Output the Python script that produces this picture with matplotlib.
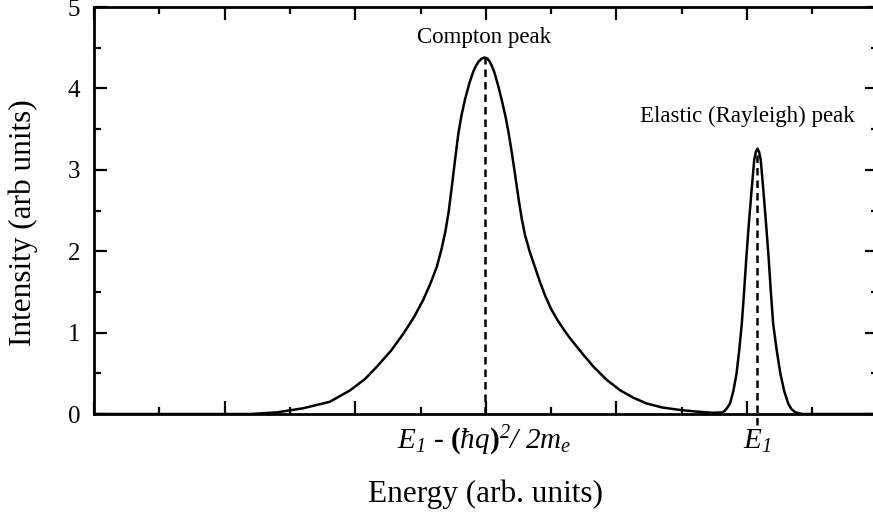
import numpy as np
import matplotlib
matplotlib.use("Agg")
import matplotlib.pyplot as plt
from matplotlib.ticker import MultipleLocator, NullFormatter

plt.rcParams['font.family'] = ['Liberation Serif', 'DejaVu Serif']
plt.rcParams['mathtext.fontset'] = 'custom'
plt.rcParams['mathtext.rm'] = 'Liberation Serif'
plt.rcParams['mathtext.it'] = 'Liberation Serif:italic'
plt.rcParams['mathtext.sf'] = 'Liberation Serif:italic'   # used for italic digits
plt.rcParams['mathtext.bf'] = 'Liberation Serif:bold'

# spectrum (energy in arb. units, intensity)
energy = [0.0, 2.40, 2.80, 3.20, 3.61, 3.92, 4.15, 4.33, 4.55, 4.74, 4.90, 5.04,
          5.15, 5.25, 5.32, 5.38, 5.43, 5.48, 5.53, 5.58, 5.63, 5.68, 5.75,
          5.81, 5.85, 5.89, 5.935, 5.98, 6.02, 6.06, 6.09, 6.13, 6.19, 6.24,
          6.30, 6.35, 6.40, 6.45, 6.50, 6.55, 6.60, 6.67, 6.75, 6.83, 6.91,
          7.00, 7.10, 7.20, 7.29, 7.47, 7.65, 7.85, 8.06, 8.26, 8.46,
          8.70, 8.97, 9.22, 9.48, 9.62,
          9.66, 9.70, 9.74, 9.79, 9.84, 9.88, 9.92, 9.955, 9.99, 10.03, 10.07,
          10.11, 10.135, 10.16, 10.185, 10.21, 10.25, 10.29, 10.33, 10.365,
          10.40, 10.455, 10.51, 10.57, 10.63, 10.68, 10.74, 10.85, 12.0]
intensity = [0.0, 0.0, 0.02, 0.07, 0.15, 0.29, 0.43, 0.58, 0.78, 0.99, 1.19, 1.40,
             1.60, 1.81, 2.02, 2.24, 2.48, 2.80, 3.13, 3.45, 3.68, 3.86, 4.07,
             4.21, 4.28, 4.33, 4.365, 4.38, 4.37, 4.33, 4.28, 4.20, 4.03, 3.87,
             3.66, 3.45, 3.20, 2.93, 2.65, 2.40, 2.20, 2.00, 1.81, 1.62, 1.45,
             1.29, 1.15, 1.03, 0.93, 0.75, 0.58, 0.42, 0.29, 0.20, 0.13,
             0.08, 0.05, 0.03, 0.015, 0.02,
             0.04, 0.08, 0.13, 0.28, 0.50, 0.78, 1.11, 1.50, 1.93, 2.36, 2.75,
             3.12, 3.22, 3.26, 3.22, 3.12, 2.75, 2.35, 1.93, 1.50,
             1.11, 0.78, 0.50, 0.28, 0.13, 0.06, 0.02, 0.0, 0.0]

compton_pos = 5.98
compton_peak = 4.38
elastic_pos = 10.16
elastic_peak = 3.26

fig = plt.figure(figsize=(8.73, 5.19), dpi=100)
ax = fig.add_axes([0.1077, 0.2023, 0.8976, 0.7842])

ax.plot(energy, intensity, color='black', lw=1.8)
ax.plot([compton_pos, compton_pos], [0, compton_peak], color='black', lw=1.8,
        dashes=(3.0, 2.0))
ax.plot([elastic_pos, elastic_pos], [-0.13, elastic_peak], color='black', lw=1.8,
        dashes=(3.0, 2.0), clip_on=False)

ax.set_xlim(0, 12)
ax.set_ylim(0, 5)

ax.xaxis.set_major_locator(MultipleLocator(2))
ax.xaxis.set_minor_locator(MultipleLocator(1))
ax.xaxis.set_major_formatter(NullFormatter())
ax.yaxis.set_major_locator(MultipleLocator(1))
ax.yaxis.set_minor_locator(MultipleLocator(0.5))

ax.tick_params(which='both', direction='in', top=True, right=True, width=1.6)
ax.tick_params(which='major', length=9.5)
ax.tick_params(which='minor', length=5)
ax.tick_params(axis='y', labelsize=18, pad=10)
for s in ax.spines.values():
    s.set_linewidth(2)

ax.annotate(r'$E_{\mathsf{1}}$ - $\mathbf{(}\mathit{ħq}\mathbf{)}^{\mathsf{2}}\mathsf{/}\ \mathsf{2}m_e$',
            xy=(compton_pos, 0), xycoords=('data', 'axes fraction'),
            xytext=(0, -25), textcoords='offset points',
            ha='center', va='baseline', fontsize=21, annotation_clip=False)
ax.annotate(r'$E_{\mathsf{1}}$',
            xy=(elastic_pos, 0), xycoords=('data', 'axes fraction'),
            xytext=(0, -25), textcoords='offset points',
            ha='center', va='baseline', fontsize=21, annotation_clip=False)

ax.text(compton_pos, 4.63, 'Compton peak', ha='center', va='center', fontsize=16.5)
ax.text(10.0, 3.65, 'Elastic (Rayleigh) peak', ha='center', va='center', fontsize=16.5)

ax.set_xlabel('Energy (arb. units)', fontsize=22.5, labelpad=44)
ax.set_ylabel('Intensity (arb units)', fontsize=22.5)
ax.yaxis.set_label_coords(-0.071, 0.47)

fig.savefig('out.png', dpi=100)
